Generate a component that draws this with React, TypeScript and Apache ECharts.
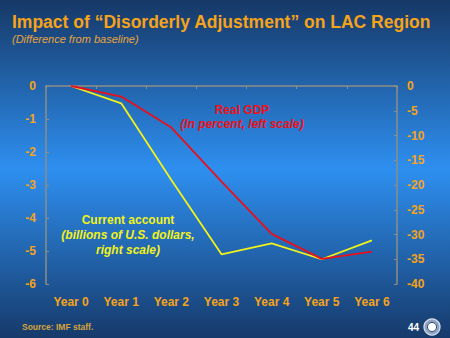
import React, { useEffect, useRef } from "react";
import * as echarts from "echarts";

const categories = ["Year 0", "Year 1", "Year 2", "Year 3", "Year 4", "Year 5", "Year 6"];
const realGDP = [0, -0.32, -1.26, -2.9, -4.48, -5.24, -5.02];
const currentAccount = [0, -3.5, -19, -34, -31.8, -35, -31.2];
const leftTicks = { min: -6, max: 0, interval: 1 };
const rightTicks = { min: -40, max: 0, interval: 5 };

const ORANGE = "#f5a31a";
const FONT = "'Liberation Sans', Arial, sans-serif";

export default function App() {
  const ref = useRef<HTMLDivElement>(null);
  useEffect(() => {
    const chart = echarts.init(ref.current!, null, { renderer: "svg" });
    chart.setOption({
      animation: false,
      backgroundColor: new echarts.graphic.LinearGradient(0, 0, 0, 1, [
        { offset: 0, color: "#163866" },
        { offset: 0.5, color: "#2e8ff0" },
        { offset: 1, color: "#163a6a" },
      ]),
      textStyle: { fontFamily: FONT },
      grid: { left: 46, right: 53, top: 86, bottom: 54 },
      xAxis: [
        {
          type: "category",
          data: categories,
          position: "bottom",
          axisLine: { show: false, onZero: false },
          axisTick: { show: false },
          axisLabel: { color: ORANGE, fontWeight: "bold", fontSize: 12, margin: 12, fontFamily: FONT },
        },
        {
          type: "category",
          data: categories,
          position: "top",
          axisLine: { show: true, onZero: false, lineStyle: { color: "#8e8e84", width: 1.5 } },
          axisTick: { show: true, inside: true, length: 3, lineStyle: { color: "#8e8e84" } },
          axisLabel: { show: false },
        },
      ],
      yAxis: [
        {
          type: "value",
          position: "left",
          ...leftTicks,
          axisLine: { show: true, lineStyle: { color: "#8e8e84", width: 1.5 } },
          axisTick: { show: true, inside: true, length: 3, lineStyle: { color: "#8e8e84" } },
          splitLine: { show: false },
          axisLabel: { color: ORANGE, fontWeight: "bold", fontSize: 12, margin: 10, fontFamily: FONT },
        },
        {
          type: "value",
          position: "right",
          ...rightTicks,
          axisLine: { show: true, lineStyle: { color: "#8e8e84", width: 1.5 } },
          axisTick: { show: true, inside: true, length: 3, lineStyle: { color: "#8e8e84" } },
          splitLine: { show: false },
          axisLabel: { color: ORANGE, fontWeight: "bold", fontSize: 12, margin: 10, fontFamily: FONT },
        },
      ],
      series: [
        {
          name: "Current account",
          type: "line",
          xAxisIndex: 0,
          yAxisIndex: 1,
          data: currentAccount,
          symbol: "none",
          lineStyle: { color: "#f2f21a", width: 1.8 },
        },
        {
          name: "Real GDP",
          type: "line",
          xAxisIndex: 0,
          yAxisIndex: 0,
          data: realGDP,
          symbol: "none",
          lineStyle: { color: "#e8101c", width: 1.8 },
        },
      ],
      graphic: [
        {
          type: "text",
          left: 12,
          top: 13,
          style: {
            text: "Impact of \u201cDisorderly Adjustment\u201d on LAC Region",
            fill: ORANGE,
            font: `bold 17.5px ${FONT}`,
          },
        },
        {
          type: "text",
          left: 12,
          top: 33,
          style: {
            text: "(Difference from baseline)",
            fill: "#e9a53a",
            font: `italic 11px ${FONT}`,
          },
        },
        {
          type: "text",
          x: 242,
          y: 110,
          style: {
            text: "Real GDP",
            fill: "#ec1018",
            font: `bold 12px ${FONT}`,
            align: "center",
            verticalAlign: "middle",
          },
        },
        {
          type: "text",
          x: 242,
          y: 124,
          style: {
            text: "(In percent, left scale)",
            fill: "#ec1018",
            font: `italic bold 12px ${FONT}`,
            align: "center",
            verticalAlign: "middle",
          },
        },
        {
          type: "text",
          x: 128,
          y: 220,
          style: {
            text: "Current account",
            fill: "#f2f21a",
            font: `bold 12px ${FONT}`,
            align: "center",
            verticalAlign: "middle",
          },
        },
        {
          type: "text",
          x: 128,
          y: 235,
          style: {
            text: "(billions of U.S. dollars,",
            fill: "#f2f21a",
            font: `italic bold 12px ${FONT}`,
            align: "center",
            verticalAlign: "middle",
          },
        },
        {
          type: "text",
          x: 128,
          y: 250,
          style: {
            text: "right scale)",
            fill: "#f2f21a",
            font: `italic bold 12px ${FONT}`,
            align: "center",
            verticalAlign: "middle",
          },
        },
        {
          type: "text",
          x: 22,
          y: 327,
          style: {
            text: "Source: IMF staff.",
            fill: "#d7a43a",
            font: `bold 8.5px ${FONT}`,
            verticalAlign: "middle",
          },
        },
        {
          type: "text",
          x: 408,
          y: 327,
          style: {
            text: "44",
            fill: "#ffffff",
            font: `bold 10px ${FONT}`,
            verticalAlign: "middle",
          },
        },
        {
          type: "circle",
          shape: { cx: 432, cy: 327, r: 8 },
          style: { fill: "#8fa4c2", stroke: "#dfe6f0", lineWidth: 1.2 },
        },
        {
          type: "circle",
          shape: { cx: 432, cy: 327, r: 4.5 },
          style: { fill: "#ffffff", stroke: "#2a4a7a", lineWidth: 1 },
        },
      ],
    });
    return () => chart.dispose();
  }, []);
  return (
    <div
      ref={ref}
      style={{ position: "fixed", left: 0, top: 0, width: 450, height: 338 }}
    />
  );
}
